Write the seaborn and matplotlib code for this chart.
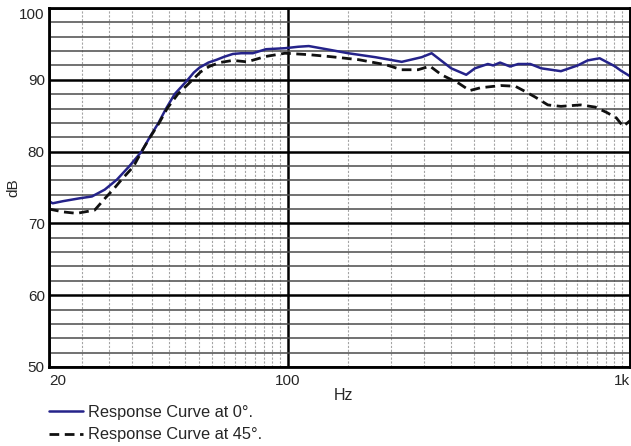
import numpy as np
import pandas as pd
import matplotlib
matplotlib.use('Agg')
import matplotlib.pyplot as plt
from matplotlib.ticker import FixedLocator, NullFormatter, FixedFormatter
import seaborn as sns

# Courbe à 0°
freq_0 = [20, 20.5, 22, 24.6, 26.7, 29.1, 31.6, 34.4, 37.3, 39.4, 41.8, 44.0, 46.6,
          50.9, 53.0, 55.1, 58.5, 61.9, 65.0, 69.0, 73.0, 78.9, 86.2, 98.0, 107, 115,
          131.6, 150, 180, 215, 246, 263, 300, 332, 352, 384, 398, 417, 446, 471, 511,
          550, 628, 703, 752, 815, 902, 939, 1000]
db_0 = [73.1, 72.8, 73.1, 73.5, 73.75, 74.7, 76.1, 78.0, 80.0, 82.0, 84.0, 86.0, 88.0,
        90.0, 91.0, 91.7, 92.4, 92.8, 93.2, 93.6, 93.7, 93.7, 94.26, 94.4, 94.6, 94.7,
        94.2, 93.7, 93.15, 92.5, 93.15, 93.7, 91.6, 90.7, 91.6, 92.2, 92.0, 92.4, 91.85,
        92.2, 92.2, 91.6, 91.2, 92.0, 92.7, 93.0, 91.9, 91.3, 90.5]

# Courbe à 45°
freq_45 = [20, 22, 24.1, 27.2, 29.3, 30.8, 32.6, 35.3, 37.3, 39.5, 42.0, 44.3, 47.6,
           52.6, 55.5, 58.8, 63.0, 69, 75.9, 86, 98, 115, 131.6, 161, 193, 215, 240,
           260, 281, 316, 340, 366, 420, 462, 488, 528, 575, 628, 717, 791, 855, 912,
           955, 1000]
db_45 = [72.0, 71.6, 71.4, 71.85, 73.6, 74.7, 76.1, 77.9, 80.0, 82.0, 84.0, 86.0, 88.0,
         90.0, 91.1, 91.85, 92.4, 92.7, 92.5, 93.25, 93.7, 93.5, 93.25, 92.8, 92.1, 91.4,
         91.4, 91.9, 90.7, 89.5, 88.5, 88.9, 89.2, 89.1, 88.5, 87.6, 86.5, 86.3, 86.5,
         86.2, 85.45, 84.7, 83.5, 84.3]

x_major = [20, 100, 1000]
x_labels = ['20', '100', '1k']
x_minor = list(range(25, 100, 5)) + list(range(150, 1000, 50))
y_major = [50, 60, 70, 80, 90, 100]
y_minor = [v for v in range(52, 100, 2) if v % 10 != 0]

sns.set_style('white')
plt.rcParams['font.family'] = ['Liberation Sans', 'DejaVu Sans']
plt.rcParams['font.size'] = 11

fig = plt.figure(figsize=(6.31, 4.46), dpi=100)
ax = fig.add_axes([49 / 631, 79 / 446, 581 / 631, 359 / 446])

ax.set_xscale('log')
ax.set_xlim(20, 1000)
ax.set_ylim(50, 100)

# Grille
ax.xaxis.set_major_locator(FixedLocator(x_major))
ax.xaxis.set_major_formatter(FixedFormatter(x_labels))
ax.xaxis.set_minor_locator(FixedLocator(x_minor))
ax.xaxis.set_minor_formatter(NullFormatter())
ax.yaxis.set_major_locator(FixedLocator(y_major))
ax.yaxis.set_minor_locator(FixedLocator(y_minor))
ax.tick_params(which='both', length=0)
ax.tick_params(axis='y', pad=3)
ax.tick_params(axis='x', pad=5)

ax.grid(which='major', color='black', lw=1.8)
ax.grid(which='minor', axis='y', color='#4a4a4a', lw=1.1)
ax.grid(which='minor', axis='x', color='#a5a5a5', lw=0.8, linestyle=(0, (2, 1.5)))
ax.set_axisbelow(True)

for s in ax.spines.values():
    s.set_color('black')
    s.set_linewidth(2.0)
    s.set_zorder(5)

# Courbes
sns.lineplot(x=freq_0, y=db_0, ax=ax, color='#25238a', lw=1.8,
             label='Response Curve at 0°.')
sns.lineplot(x=freq_45, y=db_45, ax=ax, color='#111111', lw=2.0,
             linestyle=(0, (3.5, 2)), label='Response Curve at 45°.')

# Étiquettes des ticks
xl = ax.get_xticklabels()
xl[0].set_ha('left')
xl[2].set_ha('right')
yl = ax.get_yticklabels()
yl[-1].set_va('top')

ax.set_xlabel('Hz', fontsize=11.5)
ax.xaxis.set_label_coords((343 - 49) / 581, -(388 - 367) / 359)
ax.set_ylabel('dB', fontsize=11)
ax.yaxis.set_label_coords(-(49 - 20) / 581, 0.5)

ax.legend(loc='upper left', bbox_to_anchor=(49 / 631, 1 - 405 / 446),
          bbox_transform=fig.transFigure, frameon=False, borderpad=0,
          borderaxespad=0, handlelength=2.1, handletextpad=0.3,
          labelspacing=0.45, fontsize=11.8)

plt.savefig('out.png', dpi=100)
plt.close()
